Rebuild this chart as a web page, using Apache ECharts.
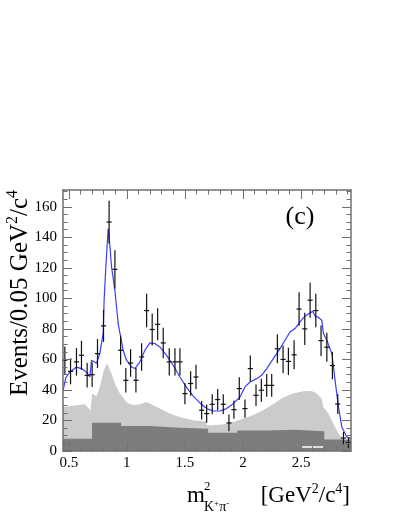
<!DOCTYPE html>
<html>
<head>
<meta charset="utf-8">
<script src="https://cdn.jsdelivr.net/npm/echarts@6/dist/echarts.min.js"></script>
<style>
  html, body { margin: 0; padding: 0; background: #fff; }
  #chart { width: 399px; height: 516px; }
</style>
</head>
<body>
<div id="chart"></div>
<script>
// data points (bin centres, events, error)
var ptX = [0.466, 0.515, 0.566, 0.609, 0.658, 0.701, 0.747, 0.799, 0.847, 0.897,
           0.946, 0.991, 1.032, 1.078, 1.127, 1.170, 1.218, 1.265, 1.313, 1.365,
           1.414, 1.457, 1.500, 1.549, 1.595, 1.644, 1.687, 1.735, 1.782, 1.830,
           1.879, 1.922, 1.968, 2.017, 2.063, 2.112, 2.158, 2.204, 2.247, 2.296,
           2.345, 2.391, 2.440, 2.483, 2.532, 2.578, 2.627, 2.672, 2.722, 2.770,
           2.816, 2.865, 2.908];
var ptY = [59.5, 52.2, 58.4, 62.7, 49.6, 50, 63.8, 82, 150, 119,
           66, 46.3, 57.7, 46.3, 61.6, 92, 79.6, 83, 70.8, 58.4,
           58.4, 58.4, 37.6, 44.2, 48.5, 26.7, 24.5, 30.6, 33.7, 30.6,
           18.4, 27.1, 40.9, 27.8, 54, 36.5, 39.8, 43, 43, 67,
           60, 58.7, 63, 93, 80, 98.8, 92, 72.3, 68, 56,
           30.8, 8.5, 5.5];
var ptErr = [9, 8.5, 9, 9.5, 8, 8, 9.5, 10.5, 14, 12.5,
             9.5, 8, 9, 8, 9, 11, 10.5, 10.5, 10, 9,
             9, 9, 7, 8, 8, 6, 6, 6.5, 7, 6.5,
             5.5, 6, 7.5, 6, 8.5, 7, 7.5, 7.5, 7.5, 9.5,
             9, 9, 9.5, 11, 10.5, 11.5, 11, 10, 9.5, 9,
             6.5, 4, 3.5];

// fit curve
var fitX = [0.451, 0.474, 0.509, 0.566, 0.609, 0.638, 0.664, 0.681, 0.696, 0.739,
            0.767, 0.796, 0.804, 0.819, 0.839, 0.853, 0.868, 0.897, 0.925, 0.968,
            0.997, 1.041, 1.069, 1.112, 1.155, 1.198, 1.241, 1.284, 1.342, 1.399,
            1.457, 1.515, 1.572, 1.629, 1.687, 1.744, 1.802, 1.859, 1.916, 1.974,
            2.017, 2.060, 2.118, 2.161, 2.204, 2.261, 2.319, 2.362, 2.405, 2.448,
            2.491, 2.534, 2.578, 2.601, 2.621, 2.641, 2.678, 2.692, 2.722, 2.765,
            2.793, 2.822, 2.851, 2.894, 2.928];
var fitY = [39.8, 48, 51.8, 55, 54, 52.5, 50.5, 48.5, 59.5, 57.5,
            64, 77, 98.8, 120.7, 145.8, 135, 120.7, 105, 83.5, 66,
            59.5, 55, 54, 58.4, 66, 70.8, 70.4, 68.2, 62.7, 56.2,
            48.5, 41.5, 36, 31.5, 27.8, 26.2, 26.2, 27.8, 31, 35.4,
            42, 45.2, 47.4, 49.6, 54, 60.5, 67.1, 72.6, 78, 80.2,
            84.6, 88.3, 90.5, 91.6, 88.3, 87.9, 85.7, 77, 72.6, 63.8,
            46.3, 28.9, 15.7, 9.2, 8.1];

// total background (light grey)
var bkgX = [0.45, 0.566, 0.638, 0.687, 0.699, 0.70, 0.739, 0.767, 0.802, 0.830,
            0.868, 0.897, 0.940, 0.997, 1.054, 1.112, 1.170, 1.227, 1.284, 1.342,
            1.399, 1.457, 1.515, 1.572, 1.629, 1.681, 1.69, 1.741, 1.828, 1.914,
            2.0, 2.086, 2.172, 2.259, 2.345, 2.431, 2.517, 2.592, 2.635, 2.678,
            2.692, 2.735, 2.778, 2.822, 2.865, 2.908, 2.93];
var bkgY = [28.9, 30, 30.6, 26.7, 26.7, 37.6, 35.8, 42, 53, 57.3,
            50.7, 44, 37.6, 32, 30, 30.6, 32.1, 30, 27.8, 25.6,
            23.8, 22.3, 21.2, 20.1, 19.7, 19.5, 16.8, 16.8, 17.3, 19,
            21.2, 23.4, 26.7, 30.6, 35, 37.6, 39.1, 39.3, 37.6, 34.3,
            28.9, 24.5, 17.9, 11.4, 7, 4.8, 4];

// component (dark grey), left bin edges
var compX = [0.45, 0.70, 0.95, 1.20, 1.45, 1.70, 1.95, 2.20, 2.45, 2.70, 2.93];
var compY = [8, 18.5, 16.3, 15.2, 14.6, 12, 13.5, 14, 13, 7.5, 7.5];

// small white segment
var whiteX = [2.5, 2.69];
var whiteY = [2.6, 2.6];

// axis ticks / labels
var xMajor = [0.5, 1, 1.5, 2, 2.5];
var xMinor = [0.5, 0.6, 0.7, 0.8, 0.9, 1.0, 1.1, 1.2, 1.3, 1.4, 1.5, 1.6, 1.7, 1.8,
              1.9, 2.0, 2.1, 2.2, 2.3, 2.4, 2.5, 2.6, 2.7, 2.8, 2.9];
var yMajor = [0, 20, 40, 60, 80, 100, 120, 140, 160];
var yMinor = [0, 5, 10, 15, 20, 25, 30, 35, 40, 45, 50, 55, 60, 65, 70, 75, 80, 85,
              90, 95, 100, 105, 110, 115, 120, 125, 130, 135, 140, 145, 150, 155,
              160, 165, 170];

var XMIN = 0.45, XMAX = 2.93, YMIN = 0, YMAX = 171;
var SERIF = 'Liberation Serif';
var FRAME = '#6f6f6f';

function zip(a, b) {
  var out = [];
  for (var i = 0; i < a.length; i++) out.push([a[i], b[i]]);
  return out;
}

function xAx(pos, len, ticks, labels, line) {
  return {
    type: 'value', position: pos, min: XMIN, max: XMAX, z: 10,
    axisLine: { show: line, onZero: false, lineStyle: { color: FRAME, width: 1.5 } },
    axisTick: { show: true, inside: true, length: len, customValues: ticks,
                lineStyle: { color: FRAME, width: 1 } },
    axisLabel: labels ? {
      show: true, customValues: labels, color: '#000', fontFamily: SERIF,
      fontSize: 15, margin: 5
    } : { show: false },
    splitLine: { show: false }
  };
}
function yAx(pos, len, ticks, labels, line) {
  return {
    type: 'value', position: pos, min: YMIN, max: YMAX, z: 10,
    axisLine: { show: line, onZero: false, lineStyle: { color: FRAME, width: 1.5 } },
    axisTick: { show: true, inside: true, length: len, customValues: ticks,
                lineStyle: { color: FRAME, width: 1 } },
    axisLabel: labels ? {
      show: true, customValues: labels, color: '#000', fontFamily: SERIF,
      fontSize: 15, margin: 6
    } : { show: false },
    splitLine: { show: false }
  };
}

var errData = [];
for (var i = 0; i < ptX.length; i++) errData.push([ptX[i], ptY[i], ptErr[i]]);

var chart = echarts.init(document.getElementById('chart'));
chart.setOption({
  animation: false,
  backgroundColor: '#fff',
  grid: { left: 63, right: 48, top: 190, bottom: 65, containLabel: false, outerBoundsMode: 'none' },
  xAxis: [
    xAx('bottom', 9, xMajor, xMajor, true),
    xAx('bottom', 4.5, xMinor, null, false),
    xAx('top', 9, xMajor, null, true),
    xAx('top', 4.5, xMinor, null, false)
  ],
  yAxis: [
    yAx('left', 9, yMajor, yMajor, true),
    yAx('left', 4.5, yMinor, null, false),
    yAx('right', 9, yMajor, null, true),
    yAx('right', 4.5, yMinor, null, false)
  ],
  series: [
    {
      name: 'background', type: 'line', data: zip(bkgX, bkgY), symbol: 'none', z: 1,
      lineStyle: { width: 0 }, areaStyle: { color: '#cbcbcb', opacity: 1 }
    },
    {
      name: 'component', type: 'line', step: 'end', data: zip(compX, compY), symbol: 'none', z: 2,
      lineStyle: { width: 0 }, areaStyle: { color: '#7d7d7d', opacity: 1 }
    },
    {
      name: 'white', type: 'line', data: zip(whiteX, whiteY), symbol: 'none', z: 3,
      lineStyle: { color: '#ffffff', width: 1.5 }
    },
    {
      name: 'fit', type: 'line', data: zip(fitX, fitY), symbol: 'none', z: 4,
      lineStyle: { color: '#3b3bff', width: 1.2 }
    },
    {
      name: 'data', type: 'custom', z: 5, data: errData,
      renderItem: function (params, api) {
        var x = api.value(0), y = api.value(1), e = api.value(2);
        var c = api.coord([x, y]);
        var t = api.coord([x, y + e]);
        var b = api.coord([x, y - e]);
        var l = api.coord([x - 0.022, y]);
        var r = api.coord([x + 0.022, y]);
        var st = { stroke: '#111', lineWidth: 1.2 };
        return {
          type: 'group',
          children: [
            { type: 'line', shape: { x1: c[0], y1: t[1], x2: c[0], y2: b[1] }, style: st },
            { type: 'line', shape: { x1: l[0], y1: c[1], x2: r[0], y2: c[1] }, style: st }
          ]
        };
      }
    }
  ],
  graphic: [
    {
      type: 'text', x: 300, y: 217, z: 20,
      style: { text: '(c)', font: '26px "Liberation Serif"', fill: '#000',
               align: 'center', verticalAlign: 'middle' }
    },
    {
      type: 'text', x: 20, y: 293, rotation: Math.PI / 2, z: 20,
      style: {
        text: '{a|Events/0.05 GeV}{s|2}{a|/c}{s|4}',
        align: 'center', verticalAlign: 'middle',
        rich: {
          a: { fontFamily: SERIF, fontSize: 25, fill: '#000', lineHeight: 31 },
          s: { fontFamily: SERIF, fontSize: 16, fill: '#000', verticalAlign: 'top' }
        }
      }
    },
    {
      type: 'text', x: 187, y: 496, z: 20,
      style: { text: 'm', font: '23px "Liberation Serif"', fill: '#000',
               align: 'left', verticalAlign: 'middle' }
    },
    {
      type: 'text', x: 204, y: 487, z: 20,
      style: { text: '2', font: '13px "Liberation Serif"', fill: '#000',
               align: 'left', verticalAlign: 'middle' }
    },
    {
      type: 'text', x: 204, y: 507, z: 20,
      style: {
        text: '{k|K}{t|+}{k|π}{t|-}',
        align: 'left', verticalAlign: 'middle',
        rich: {
          k: { fontFamily: SERIF, fontSize: 14, fill: '#000', lineHeight: 16 },
          t: { fontFamily: SERIF, fontSize: 9, fill: '#000', verticalAlign: 'top' }
        }
      }
    },
    {
      type: 'text', x: 350, y: 496, z: 20,
      style: {
        text: '{a|[GeV}{s|2}{a|/c}{s|4}{a|]}',
        align: 'right', verticalAlign: 'middle',
        rich: {
          a: { fontFamily: SERIF, fontSize: 23, fill: '#000', lineHeight: 27 },
          s: { fontFamily: SERIF, fontSize: 14, fill: '#000', verticalAlign: 'top' }
        }
      }
    }
  ]
});
</script>
</body>
</html>
